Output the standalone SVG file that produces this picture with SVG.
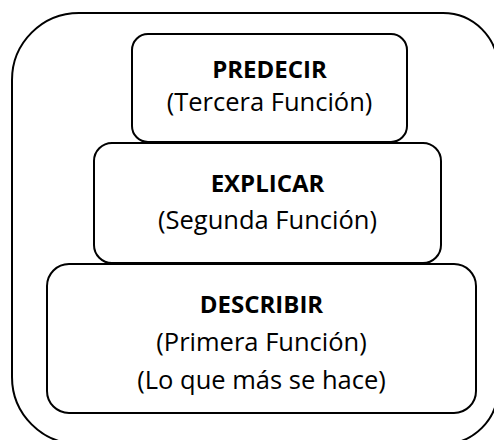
<svg xmlns="http://www.w3.org/2000/svg" width="494" height="440" viewBox="0 0 494 440">
<style>
.box{fill:#fff;stroke:#000;stroke-width:2}
.t{font-family:"Open Sans",Lato,"Liberation Sans",sans-serif;font-size:25.5px;fill:#000;text-anchor:middle}
.b{font-weight:bold;font-size:24px}
</style>
<rect width="494" height="440" fill="#fff"/>
<g id="outer"><path class="box" d="M 79 13 H 443 A 55 55 0 0 1 498 68 V 389 A 55 55 0 0 1 443 444 H 79 A 67 67 0 0 1 12 377 V 80 A 67 67 0 0 1 79 13 Z"/></g>
<g id="predecir">
<rect class="box" x="132" y="34" width="275" height="108" rx="16" ry="16"/>
<text class="t b" x="269.5" y="78">PREDECIR</text>
<text class="t" x="269.5" y="111">(Tercera Función)</text>
</g>
<g id="explicar">
<rect class="box" x="94" y="143" width="347" height="120" rx="18" ry="18"/>
<text class="t b" x="267.5" y="192">EXPLICAR</text>
<text class="t" x="267.5" y="229">(Segunda Función)</text>
</g>
<g id="describir">
<rect class="box" x="47" y="264" width="429" height="149" rx="22" ry="22"/>
<text class="t b" x="261.5" y="313">DESCRIBIR</text>
<text class="t" x="261.5" y="351">(Primera Función)</text>
<text class="t" x="261.5" y="389">(Lo que más se hace)</text>
</g>
<g id="connectors"></g>
</svg>
